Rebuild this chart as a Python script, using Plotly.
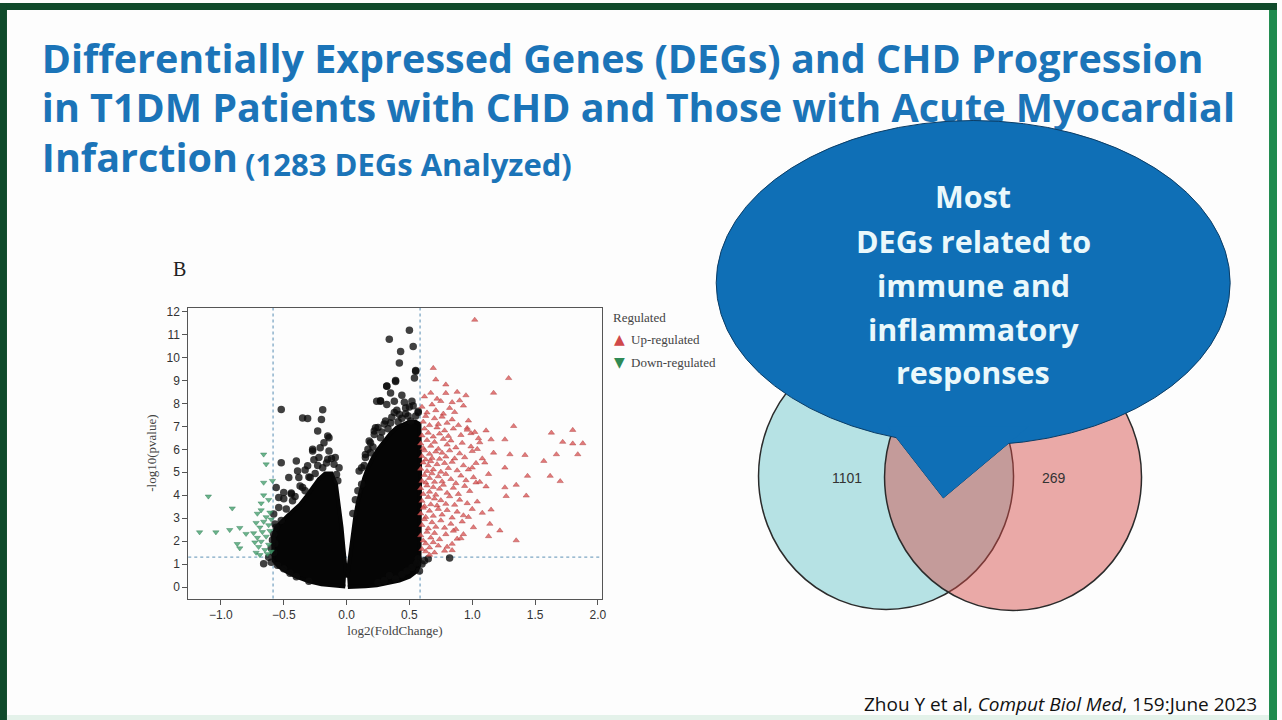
import plotly.graph_objects as go

W, H = 1282, 720

def px(v):
    return v / W

def py(v):
    return 1 - v / H

# ---------------- DATA ----------------
title_lines = [
    "Differentially Expressed Genes (DEGs) and CHD Progression",
    "in T1DM Patients with CHD and Those with Acute Myocardial",
    "Infarction",
]
title_sub = "(1283 DEGs Analyzed)"

callout_lines = ["Most", "DEGs related to", "immune and", "inflammatory", "responses"]

citation = "Zhou Y et al, <i>Comput Biol Med</i>, 159:June 2023"

x_ticks = [-1.0, -0.5, 0.0, 0.5, 1.0, 1.5, 2.0]
x_ticklabels = ["\u22121.0", "\u22120.5", "0.0", "0.5", "1.0", "1.5", "2.0"]
y_ticks = list(range(0, 13))

fc_cutoff = 0.585   # log2(1.5)
p_cutoff = 1.3      # -log10(0.05)

legend_title = "Regulated"
legend_names = ["Up-regulated", "Down-regulated"]

venn_only_counts = [1101, 269]

# dense (not significant) mass, left and right lobes (outline)
left_lobe = [(-0.01, 0.02), (-0.10, 0.05), (-0.20, 0.12), (-0.30, 0.25), (-0.40, 0.45),
             (-0.48, 0.68), (-0.54, 0.90), (-0.58, 1.15), (-0.585, 1.60), (-0.585, 2.20),
             (-0.56, 2.60), (-0.52, 2.85), (-0.47, 3.10), (-0.42, 3.35), (-0.37, 3.60),
             (-0.32, 3.95), (-0.27, 4.30), (-0.22, 4.70), (-0.17, 4.95), (-0.12, 4.95),
             (-0.085, 4.50), (-0.06, 3.60), (-0.04, 2.60), (-0.025, 1.70), (-0.012, 0.90),
             (-0.004, 0.55)]
right_lobe = [(0.005, 0.40), (0.015, 0.85), (0.03, 1.60), (0.05, 2.40), (0.07, 3.10),
              (0.09, 3.70), (0.11, 4.20), (0.14, 4.75), (0.17, 5.20), (0.21, 5.65),
              (0.25, 6.00), (0.30, 6.35), (0.35, 6.70), (0.40, 6.95), (0.45, 7.10),
              (0.50, 7.20), (0.55, 7.20), (0.58, 7.10), (0.585, 5.0), (0.585, 2.0),
              (0.58, 1.0), (0.56, 0.70), (0.50, 0.45), (0.42, 0.28), (0.33, 0.16),
              (0.24, 0.08), (0.15, 0.03), (0.06, 0.00), (0.01, 0.00)]

# individual not-significant genes outside / on the edge of the dense mass
ns_points = [
    (0.50, 11.19), (0.53, 10.48), (0.34, 10.80), (0.43, 10.26), (0.42, 9.76), (0.55, 9.43),
    (0.54, 9.11), (0.39, 9.00), (0.32, 8.76), (0.35, 8.46), (0.44, 8.36), (0.24, 8.10),
    (0.27, 8.12), (0.32, 7.95), (0.46, 8.05), (0.50, 7.85), (0.40, 7.70), (0.53, 7.90),
    (0.57, 7.60),
    (-0.19, 7.72), (-0.52, 7.74), (-0.35, 7.37), (-0.31, 7.34), (-0.20, 7.30), (-0.23, 6.80),
    (-0.15, 6.58), (-0.18, 6.29), (-0.21, 6.07), (-0.27, 5.93), (-0.52, 5.42), (-0.14, 5.93),
    (-0.10, 5.35), (-0.40, 5.49), (-0.46, 4.77), (-0.56, 4.34), (-0.54, 3.90), (-0.26, 5.55),
    (-0.33, 5.10), (-0.44, 4.10), (-0.50, 3.85), (-0.37, 4.40), (-0.30, 4.80), (-0.12, 5.60),
    (-0.08, 4.90), (-0.16, 5.40),
    (-0.50, 4.12), (-0.39, 5.06), (-0.38, 4.77), (-0.31, 5.28), (-0.27, 6.00), (-0.14, 6.50),
    (-0.15, 5.57), (-0.09, 5.64), (-0.22, 5.64), (-0.44, 4.05), (-0.58, 3.18), (-0.54, 3.47),
    (-0.43, 3.76), (-0.35, 4.34), (-0.29, 4.77), (-0.07, 4.63), (-0.06, 5.20), (-0.48, 3.40),
    (-0.41, 3.95), (-0.25, 4.95), (-0.19, 5.20), (-0.57, 2.75), (-0.33, 4.20), (-0.23, 5.30),
    (0.19, 6.29), (0.27, 6.50), (0.15, 5.78), (0.10, 5.06), (0.12, 4.48), (0.07, 3.80),
    (0.05, 3.20), (0.22, 6.80), (0.30, 7.10), (0.36, 7.40), (0.17, 6.00), (0.25, 6.95),
    (0.33, 6.90), (0.14, 5.30), (0.09, 4.20), (0.38, 7.60), (0.47, 7.55),
    (0.15, 5.64), (0.23, 6.94), (0.27, 8.10), (0.31, 7.23), (0.38, 8.10), (0.39, 8.96),
    (0.32, 8.75), (0.47, 7.80), (0.52, 8.10), (0.55, 9.40), (0.18, 6.36), (0.12, 5.20),
    (0.19, 5.85), (0.22, 6.65), (0.42, 7.52), (0.51, 7.23), (0.57, 7.66), (0.44, 7.35),
    (0.49, 7.45), (0.35, 7.15), (0.28, 6.75), (0.55, 7.45), (0.41, 7.20), (0.21, 6.10),
    (-0.66, 1.01), (-0.60, 1.08), (0.57, 1.23), (0.65, 1.23), (0.82, 1.27), (0.39, 0.36),
    (0.34, 0.50), (0.44, 0.55), (0.48, 0.70), (0.52, 0.85), (0.56, 1.05), (0.60, 1.00),
    (0.62, 1.15), (0.58, 0.70), (-0.62, 1.30), (-0.58, 1.50), (-0.57, 1.90), (-0.58, 2.30),
    (-0.56, 2.60), (-0.52, 2.90), (-0.55, 0.95), (-0.50, 0.80), (-0.45, 0.60), (-0.40, 0.45),
    (-0.30, 0.25), (0.25, 0.20), (0.30, 0.28), (-0.60, 1.70), (-0.59, 2.05),
]

# up-regulated genes
up_points = [
    (1.02, 11.64), (0.69, 9.54), (1.29, 9.10), (0.71, 9.04), (0.79, 8.82), (1.17, 8.46),
    (0.88, 8.50), (0.67, 8.46), (0.90, 8.13), (0.75, 8.10), (1.63, 6.72), (1.80, 6.84),
    (1.72, 6.32), (1.80, 6.25), (1.88, 6.26), (1.84, 5.78), (1.67, 5.78), (1.57, 5.49),
    (1.62, 4.84), (1.70, 4.61), (1.33, 7.01), (1.26, 6.43), (1.42, 5.75), (1.30, 5.78),
    (1.26, 5.20), (1.44, 4.84), (1.35, 4.45), (1.26, 4.34), (1.27, 3.96), (1.43, 3.98),
    (1.35, 2.03), (1.22, 2.46), (1.13, 2.21), (1.14, 2.75), (1.08, 3.23), (1.15, 3.37),
    (1.04, 3.72), (1.11, 4.38), (1.13, 4.92), (1.17, 5.85), (1.15, 6.43), (1.11, 6.82),
    (1.04, 6.01), (1.10, 5.42), (0.96, 6.93), (0.99, 6.70), (1.05, 6.48), (1.00, 5.20),
    (1.03, 4.55), (0.97, 3.05), (1.01, 2.60), (0.93, 2.30), (0.88, 2.10), (0.84, 1.60),
    (0.80, 1.75), (0.66, 1.40), (0.63, 1.55), (0.70, 1.50),
    (0.62, 8.30), (0.72, 8.20), (0.79, 8.45), (0.84, 8.05), (0.95, 8.35),
    (0.60, 7.85), (0.64, 7.60), (0.68, 7.95), (0.71, 7.70), (0.77, 7.55), (0.82, 7.80),
    (0.86, 7.62), (0.93, 7.90),
    (0.61, 7.20), (0.63, 7.45), (0.66, 7.05), (0.70, 7.35), (0.73, 7.10), (0.76, 7.42),
    (0.80, 7.15), (0.84, 7.30), (0.89, 7.05), (0.97, 7.25),
    (0.60, 6.60), (0.62, 6.90), (0.65, 6.72), (0.69, 6.55), (0.72, 6.95), (0.74, 6.68),
    (0.78, 6.82), (0.81, 6.58), (0.85, 6.90), (0.91, 6.62), (0.96, 6.85), (1.02, 6.75),
    (0.59, 6.25), (0.61, 6.05), (0.64, 6.40), (0.67, 6.15), (0.70, 6.32), (0.73, 6.02),
    (0.77, 6.45), (0.80, 6.20), (0.83, 6.38), (0.87, 6.08), (0.92, 6.28), (0.99, 6.12),
    (1.06, 6.30),
    (0.60, 5.70), (0.62, 5.95), (0.63, 5.55), (0.66, 5.80), (0.68, 5.62), (0.71, 5.90),
    (0.74, 5.58), (0.76, 5.85), (0.79, 5.68), (0.82, 5.95), (0.86, 5.60), (0.90, 5.82),
    (0.94, 5.65), (1.00, 5.92), (1.08, 5.60),
    (0.59, 5.15), (0.61, 5.42), (0.64, 5.05), (0.65, 5.30), (0.67, 5.48), (0.69, 5.12),
    (0.72, 5.35), (0.75, 5.02), (0.78, 5.40), (0.81, 5.18), (0.84, 5.45), (0.88, 5.08),
    (0.93, 5.30), (0.97, 5.12), (1.03, 5.40),
    (0.60, 4.62), (0.62, 4.88), (0.63, 4.55), (0.66, 4.75), (0.68, 4.95), (0.70, 4.58),
    (0.73, 4.82), (0.76, 4.60), (0.79, 4.92), (0.83, 4.70), (0.87, 4.52), (0.91, 4.85),
    (0.95, 4.65), (1.01, 4.78), (1.06, 4.58),
    (0.59, 4.30), (0.61, 4.05), (0.64, 4.42), (0.66, 4.15), (0.69, 4.35), (0.71, 4.02),
    (0.74, 4.28), (0.77, 4.45), (0.80, 4.10), (0.85, 4.32), (0.89, 4.05), (0.94, 4.40),
    (0.98, 4.18),
    (0.60, 3.75), (0.62, 3.52), (0.65, 3.92), (0.67, 3.60), (0.70, 3.85), (0.72, 3.55),
    (0.75, 3.78), (0.79, 3.62), (0.82, 3.95), (0.86, 3.58), (0.90, 3.80), (0.96, 3.65),
    (0.59, 3.20), (0.61, 3.45), (0.63, 3.05), (0.66, 3.32), (0.69, 3.10), (0.73, 3.40),
    (0.76, 3.15), (0.80, 3.35), (0.84, 3.02), (0.88, 3.28), (0.93, 3.12), (1.00, 3.40),
    (0.60, 2.70), (0.62, 2.95), (0.65, 2.55), (0.68, 2.82), (0.71, 2.62), (0.75, 2.90),
    (0.78, 2.58), (0.83, 2.75), (0.87, 2.52), (0.92, 2.85),
    (0.59, 2.25), (0.61, 2.02), (0.64, 2.40), (0.67, 2.15), (0.70, 2.35), (0.74, 2.08),
    (0.79, 2.30), (0.85, 2.45), (0.91, 2.12),
    (0.60, 1.65), (0.63, 1.90), (0.66, 1.72), (0.69, 1.95), (0.73, 1.80), (0.78, 1.58),
    (0.84, 1.88),
]

# down-regulated genes
down_points = [
    (-0.66, 5.78), (-0.64, 5.35), (-0.59, 4.63), (-0.66, 4.55), (-1.10, 3.95), (-0.91, 3.43),
    (-1.17, 2.39), (-1.04, 2.39), (-0.93, 2.49), (-0.85, 2.58), (-0.80, 2.32), (-0.87, 1.88),
    (-0.85, 1.69),
    (-0.71, 3.20), (-0.68, 3.35), (-0.64, 3.05), (-0.61, 3.25), (-0.72, 2.80), (-0.69, 2.60),
    (-0.66, 2.85), (-0.62, 2.70), (-0.60, 2.95), (-0.74, 2.35), (-0.71, 2.15), (-0.67, 2.40),
    (-0.64, 2.20), (-0.61, 2.45), (-0.73, 1.95), (-0.70, 1.75), (-0.68, 1.98), (-0.65, 1.62),
    (-0.62, 1.85), (-0.60, 1.55), (-0.72, 1.50), (-0.69, 1.40), (-0.63, 1.45), (-0.66, 4.00),
    (-0.62, 3.80), (-0.68, 3.65),
]

# ---------------- FIGURE ----------------
def xs(pts):
    return [p[0] for p in pts]

def ys(pts):
    return [p[1] for p in pts]

BLUE_TITLE = "#1b74b8"
SERIF = "Liberation Serif, Times New Roman, serif"
SANS = "Liberation Sans, Arial, sans-serif"
SLIDE = "Open Sans, Lato, sans-serif"

fig = go.Figure()

for lobe in (left_lobe, right_lobe):
    fig.add_trace(go.Scatter(
        x=xs(lobe), y=ys(lobe), mode="lines", fill="toself",
        fillcolor="#050505", line=dict(color="#050505", width=4),
        showlegend=False, hoverinfo="skip", xaxis="x", yaxis="y"))

fig.add_trace(go.Scatter(
    x=xs(ns_points), y=ys(ns_points), mode="markers",
    marker=dict(size=7.5, color="rgba(10,10,10,0.78)", line=dict(width=0)),
    showlegend=False, xaxis="x", yaxis="y"))

fig.add_trace(go.Scatter(
    x=xs(up_points), y=ys(up_points), mode="markers",
    marker=dict(symbol="triangle-up", size=5.5, color="rgba(218,90,90,0.8)",
                line=dict(width=0.5, color="rgba(170,50,50,0.8)")),
    showlegend=False, xaxis="x", yaxis="y"))

fig.add_trace(go.Scatter(
    x=xs(down_points), y=ys(down_points), mode="markers",
    marker=dict(symbol="triangle-down", size=5.5, color="rgba(70,160,110,0.8)",
                line=dict(width=0.5, color="rgba(40,120,80,0.8)")),
    showlegend=False, xaxis="x", yaxis="y"))

# title as text trace on a full-page overlay axis (so the callout covers it)
title_y = [60, 110, 160]
fig.add_trace(go.Scatter(
    x=[42, 42, 42], y=title_y, mode="text",
    text=["<b>" + t + "</b>" for t in title_lines],
    textposition="middle right",
    textfont=dict(family=SLIDE, size=39.5, color=BLUE_TITLE),
    showlegend=False, hoverinfo="skip", xaxis="x3", yaxis="y3"))
fig.add_trace(go.Scatter(
    x=[246], y=[166], mode="text", text=["<b>" + title_sub + "</b>"],
    textposition="middle right",
    textfont=dict(family=SLIDE, size=31, color=BLUE_TITLE),
    showlegend=False, hoverinfo="skip", xaxis="x3", yaxis="y3"))

shapes = []
# slide frame
shapes.append(dict(type="rect", xref="paper", yref="paper", x0=0, x1=1, y0=py(7), y1=1,
                   fillcolor="#0f4a2b", line=dict(width=0), layer="below"))
shapes.append(dict(type="rect", xref="paper", yref="paper", x0=0, x1=px(7), y0=0, y1=1,
                   fillcolor="#0f4a2b", line=dict(width=0), layer="below"))
shapes.append(dict(type="rect", xref="paper", yref="paper", x0=px(1274), x1=1, y0=0, y1=py(7),
                   fillcolor="#1d8a4d", line=dict(width=0), layer="below"))
shapes.append(dict(type="rect", xref="paper", yref="paper", x0=px(7), x1=px(1274), y0=0, y1=py(715),
                   fillcolor="#e4f2ea", line=dict(width=0), layer="below"))

# threshold lines
dash_col = "#7ea7c4"
for xv in (-fc_cutoff, fc_cutoff):
    shapes.append(dict(type="line", xref="x", yref="y domain", x0=xv, x1=xv, y0=0, y1=1,
                       line=dict(color=dash_col, width=1.3, dash="dot"), layer="below"))
shapes.append(dict(type="line", xref="x domain", yref="y", x0=0, x1=1, y0=p_cutoff, y1=p_cutoff,
                   line=dict(color=dash_col, width=1.3, dash="dot"), layer="below"))

# Venn diagram
shapes.append(dict(type="circle", xref="paper", yref="paper",
                   x0=px(761.5), x1=px(1017.5), y0=py(609), y1=py(341),
                   fillcolor="#b6e2e4", line=dict(color="#2b2b2b", width=1.5), layer="below"))
shapes.append(dict(type="circle", xref="paper", yref="paper",
                   x0=px(888), x1=px(1146), y0=py(610), y1=py(342),
                   fillcolor="rgba(213,74,70,0.47)", line=dict(color="#2b2b2b", width=1.5),
                   layer="below"))

# callout bubble
CALL = "#0f6fb6"
CALL_LINE = "#0b3d66"
tail = "M {:.5f},{:.5f} L {:.5f},{:.5f} L {:.5f},{:.5f} Z".format(
    px(891), py(425), px(947), py(497), px(1033), py(425))
shapes.append(dict(type="path", xref="paper", yref="paper", path=tail,
                   fillcolor=CALL, line=dict(color=CALL_LINE, width=1), layer="above"))
shapes.append(dict(type="circle", xref="paper", yref="paper",
                   x0=px(719), x1=px(1235), y0=py(444), y1=py(118),
                   fillcolor=CALL, line=dict(color=CALL_LINE, width=1), layer="above"))
shapes.append(dict(type="path", xref="paper", yref="paper", path=tail,
                   fillcolor=CALL, line=dict(width=0), layer="above"))

annotations = []
call_y = [194, 239, 283, 327, 371]
for t, yv in zip(callout_lines, call_y):
    annotations.append(dict(xref="paper", yref="paper", x=px(977), y=py(yv), text="<b>" + t + "</b>",
                            showarrow=False, xanchor="center", yanchor="middle",
                            font=dict(family=SLIDE, size=30.5, color="#eaf8fb")))

annotations.append(dict(xref="paper", yref="paper", x=px(850), y=py(477), text=str(venn_only_counts[0]),
                        showarrow=False, xanchor="center", yanchor="middle",
                        font=dict(family=SANS, size=14, color="#333333")))
annotations.append(dict(xref="paper", yref="paper", x=px(1058), y=py(477), text=str(venn_only_counts[1]),
                        showarrow=False, xanchor="center", yanchor="middle",
                        font=dict(family=SANS, size=14, color="#333333")))

annotations.append(dict(xref="paper", yref="paper", x=px(172), y=py(267), text="B",
                        showarrow=False, xanchor="left", yanchor="middle",
                        font=dict(family=SERIF, size=20, color="#222222")))

# legend (drawn as text)
LEG_FONT = dict(family=SERIF, size=13, color="#444444")
annotations.append(dict(xref="paper", yref="paper", x=px(613), y=py(316), text=legend_title,
                        showarrow=False, xanchor="left", yanchor="middle", font=LEG_FONT))
annotations.append(dict(xref="paper", yref="paper", x=px(622), y=py(337), text="\u25B2",
                        showarrow=False, xanchor="center", yanchor="middle",
                        font=dict(family="DejaVu Sans", size=14, color="#d0494a")))
annotations.append(dict(xref="paper", yref="paper", x=px(622), y=py(360), text="\u25BC",
                        showarrow=False, xanchor="center", yanchor="middle",
                        font=dict(family="DejaVu Sans", size=14, color="#2f8a55")))
annotations.append(dict(xref="paper", yref="paper", x=px(631), y=py(338), text=legend_names[0],
                        showarrow=False, xanchor="left", yanchor="middle", font=LEG_FONT))
annotations.append(dict(xref="paper", yref="paper", x=px(631), y=py(361), text=legend_names[1],
                        showarrow=False, xanchor="left", yanchor="middle", font=LEG_FONT))

annotations.append(dict(xref="paper", yref="paper", x=px(1264), y=py(704), text=citation,
                        showarrow=False, xanchor="right", yanchor="middle",
                        font=dict(family=SLIDE, size=19, color="#111111")))

axis_common = dict(showgrid=False, zeroline=False, showline=True, mirror=True,
                   linecolor="#555555", linewidth=1, ticks="outside", ticklen=5,
                   tickcolor="#555555", tickfont=dict(family=SANS, size=12, color="#333333"))

fig.update_layout(
    width=W, height=H, margin=dict(l=0, r=0, t=0, b=0),
    paper_bgcolor="#fdfdfd", plot_bgcolor="rgba(0,0,0,0)",
    xaxis=dict(domain=[px(189), px(604)], range=[-1.26, 2.03], tickvals=x_ticks,
               ticktext=x_ticklabels, anchor="y",
               title=dict(text="log2(FoldChange)", standoff=4,
                          font=dict(family=SERIF, size=13, color="#444444")),
               **axis_common),
    yaxis=dict(domain=[py(598), py(306)], range=[-0.5, 12.17], tickvals=y_ticks, anchor="x",
               title=dict(text="-log10(pvalue)", standoff=6,
                          font=dict(family=SERIF, size=13, color="#444444")),
               **axis_common),
    xaxis3=dict(domain=[0, 1], range=[0, W], visible=False, anchor="y3", fixedrange=True),
    yaxis3=dict(domain=[0, 1], range=[H, 0], visible=False, anchor="x3", fixedrange=True),
    showlegend=False,
    shapes=shapes, annotations=annotations,
)

fig.write_html("out.html", config={"displayModeBar": False},
               post_script="document.body.style.margin='0px';document.body.style.overflow='hidden';")
